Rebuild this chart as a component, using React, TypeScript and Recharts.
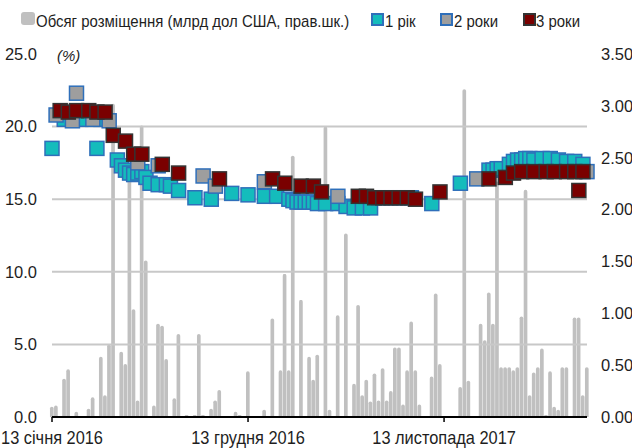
import { ComposedChart, Bar, Line, XAxis, YAxis, ReferenceLine } from 'recharts'

// x axis: one slot per auction week, labels only at three of them
const tickSlots = [0, 48, 96]
const tickLabels = ['13 січня 2016', '13 грудня 2016', '13 листопада 2017']

// placement volume, bn USD (right axis), one value per slot, null = no auction
const volume: (number | null)[] = [
  0.10, 0.11, null, 0.37, 0.46, null, 0.05, null, null, 0.08,
  0.19, null, 0.58, 0.21, 0.70, 3.02, null, 0.63, 0.51, 2.28,
  1.04, 0.16, 2.81, 1.51, null, 0.11, 0.90, 0.88, 0.56, null,
  0.18, 0.80, null, 0.02, null, 0.02, 0.80, 0.02, null, 0.08,
  0.16, 0.26, null, null, null, 0.05, 0.02, null, 0.44, null,
  null, null, 0.07, null, 0.95, null, 0.45, 1.38, 0.45, 2.52,
  null, 1.13, null, 0.58, 0.36, 0.60, null, 2.80, 0.07, null,
  0.98, null, 1.77, null, 0.32, 1.08, 0.21, 0.36, 0.15, 0.42,
  0.16, 0.47, 0.16, 0.25, 0.67, 0.67, 0.12, 0.45, 0.92, 0.45,
  0.12, null, null, 0.39, 1.19, 0.51, null, null, null, null,
  0.29, 3.16, 0.35, null, null, 0.90, 0.74, 1.20, 0.90, 2.27,
  0.48, 0.48, 0.48, 0.45, 0.48, 0.97, 2.19, 0.21, 0.43, 0.48,
  0.66, 0.02, 0.44, 0.10, 0.07, 0.48, 0.48, null, 0.96, 0.96,
  0.21, 0.48,
]

// weighted yields, % (left axis): [slot, value]
const oneYear: [number, number][] = [
  [0, 18.5], [3, 20.5], [7, 20.5], [11, 18.5], [12, 20.5],
  [16, 17.7], [17, 17.3], [18, 17.0], [19, 16.8], [20, 16.7], [21, 16.8], [22, 16.9], [23, 16.5],
  [24, 16.1], [26, 16.0], [28, 16.0], [29, 15.9], [31, 15.6], [35, 15.1], [39, 15.0],
  [44, 15.4], [48, 15.3], [52, 15.2], [55, 15.2],
  [58, 15.0], [59, 14.9], [60, 14.8], [61, 14.8], [62, 14.8], [63, 14.8], [64, 14.8], [65, 14.7],
  [67, 14.7], [70, 14.7], [72, 14.5], [74, 14.4], [76, 14.4], [78, 14.4],
  [80, 15.1], [82, 15.1], [84, 15.1], [86, 15.1], [88, 15.1],
  [93, 14.7], [100, 16.1],
  [107, 17.0], [108, 17.0], [109, 17.1], [110, 17.1],
  [112, 17.4], [113, 17.6], [114, 17.7], [115, 17.7], [116, 17.8], [117, 17.8], [118, 17.7],
  [120, 17.8], [122, 17.8], [124, 17.7], [126, 17.6], [128, 17.6], [130, 17.4],
]
const twoYears: [number, number][] = [
  [1, 20.8], [5, 20.4], [6, 22.3], [10, 20.5], [14, 20.4], [21, 17.5], [26, 17.3],
  [37, 16.6], [40, 15.9], [52, 16.2], [70, 15.2], [104, 16.4], [131, 16.9],
]
const threeYears: [number, number][] = [
  [2, 21.1], [4, 21.0], [6, 21.1], [9, 21.1], [11, 21.0], [13, 21.0],
  [15, 19.4], [18, 19.0], [20, 18.1], [22, 18.1], [27, 17.4], [31, 16.8],
  [41, 16.4], [54, 16.4], [57, 16.1], [61, 15.9], [64, 15.9], [66, 15.5],
  [75, 15.2], [77, 15.2], [79, 15.1], [81, 15.1], [83, 15.1], [85, 15.1], [87, 15.1], [89, 15.0],
  [95, 15.5], [107, 16.4], [111, 16.5],
  [113, 16.8], [115, 16.9], [118, 16.9], [121, 16.9], [123, 16.9], [126, 16.9], [128, 16.9],
  [129, 15.6], [130, 16.9],
]

const leftTicks = [0, 5, 10, 15, 20, 25]
const rightTicks = [0, 0.5, 1, 1.5, 2, 2.5, 3, 3.5]
const gridLines = [5, 10, 15, 20]

const lookup = (pairs: [number, number][]) => new Map(pairs)
const m1 = lookup(oneYear)
const m2 = lookup(twoYears)
const m3 = lookup(threeYears)

const data = volume.map((vol, idx) => ({
  idx,
  vol,
  y1: m1.get(idx) ?? null,
  y2: m2.get(idx) ?? null,
  y3: m3.get(idx) ?? null,
}))

const FONT = "'Liberation Sans', Arial, sans-serif"
const TEXT = '#1e1e1e'
const TEAL = '#14bcbc'
const BLUE = '#2f6fba'
const GRAY = '#9e9e9e'
const RED = '#7a0000'
const DARK = '#333333'
const BAR = '#c0c0c0'

function squareDot(fill: string, stroke: string) {
  return (props: any) => {
    const { cx, cy, value, index } = props
    if (value == null || cx == null || cy == null) return <g key={`e-${index}`} />
    return (
      <rect key={`d-${index}`} x={cx - 7} y={cy - 7} width={14} height={14}
        fill={fill} stroke={stroke} strokeWidth={1.5} />
    )
  }
}

// condensed-looking date labels under the axis
function DateTick({ x, y, payload }: any) {
  const label = tickLabels[tickSlots.indexOf(payload.value)] ?? ''
  return (
    <text transform={`translate(${x},${y}) scale(0.91,1)`} textAnchor="middle" dy="0.71em"
      fontSize={18} fill={TEXT} fontFamily={FONT}>{label}</text>
  )
}

const legendItems = [
  { label: 'Обсяг розміщення (млрд дол США, прав.шк.)', fill: BAR, round: true, icon: 21, text: 36 },
  { label: '1 рік', fill: TEAL, stroke: BLUE, icon: 371, text: 385 },
  { label: '2 роки', fill: GRAY, stroke: BLUE, icon: 440, text: 454 },
  { label: '3 роки', fill: RED, stroke: DARK, icon: 523, text: 536 },
]

export default function App() {
  return (
    <div style={{ position: 'relative', width: 632, height: 448, fontFamily: FONT, color: TEXT }}>
      <style>{'body{margin:0}'}</style>
      {legendItems.map((it) => (
        <div key={it.label}>
          <span style={{
            position: 'absolute', left: it.icon, top: it.round ? 12 : 13,
            width: it.round ? 14 : 9, height: it.round ? 13 : 9,
            background: it.fill, border: it.stroke ? `2px solid ${it.stroke}` : 'none',
            borderRadius: it.round ? 3 : 0,
          }} />
          <span style={{
            position: 'absolute', left: it.text, top: 12, fontSize: 17, whiteSpace: 'nowrap',
            transform: 'scaleX(0.88)', transformOrigin: 'left center',
          }}>{it.label}</span>
        </div>
      ))}
      <div style={{ position: 'absolute', left: 57, top: 47, fontSize: 15, fontStyle: 'italic' }}>(%)</div>
      <ComposedChart width={632} height={448} data={data}
        margin={{ top: 54, right: 0, bottom: 0, left: 0 }}>
        <XAxis dataKey="idx" type="number" domain={[0, 131]} ticks={tickSlots} interval={0}
          axisLine={{ stroke: '#000', strokeWidth: 2 }} tickLine={{ stroke: '#000', strokeWidth: 1.5 }}
          tickSize={5} tickMargin={9} height={31} tick={<DateTick />} />
        <YAxis yAxisId="left" domain={[0, 25]} ticks={leftTicks} width={52}
          tickFormatter={(v: number) => v.toFixed(1)} axisLine={false} tickLine={false}
          tickMargin={9} tick={{ fontSize: 16.5, fill: TEXT, fontFamily: FONT }} />
        <YAxis yAxisId="right" orientation="right" domain={[0, 3.5]} ticks={rightTicks} width={45}
          tickFormatter={(v: number) => v.toFixed(2)} axisLine={false} tickLine={false}
          tickMargin={8} tick={{ fontSize: 16.5, fill: TEXT, fontFamily: FONT }} />
        {gridLines.map((v) => (
          <ReferenceLine key={v} yAxisId="left" y={v} stroke="#c8c8c8" strokeWidth={2} />
        ))}
        <Bar yAxisId="right" dataKey="vol" fill={BAR} barSize={5} radius={[2.5, 2.5, 0, 0]} isAnimationActive={false} />
        <Line yAxisId="left" dataKey="y1" stroke="none" strokeWidth={0} dot={squareDot(TEAL, BLUE)} activeDot={false} isAnimationActive={false} />
        <Line yAxisId="left" dataKey="y2" stroke="none" strokeWidth={0} dot={squareDot(GRAY, BLUE)} activeDot={false} isAnimationActive={false} />
        <Line yAxisId="left" dataKey="y3" stroke="none" strokeWidth={0} dot={squareDot(RED, DARK)} activeDot={false} isAnimationActive={false} />
      </ComposedChart>
    </div>
  )
}
